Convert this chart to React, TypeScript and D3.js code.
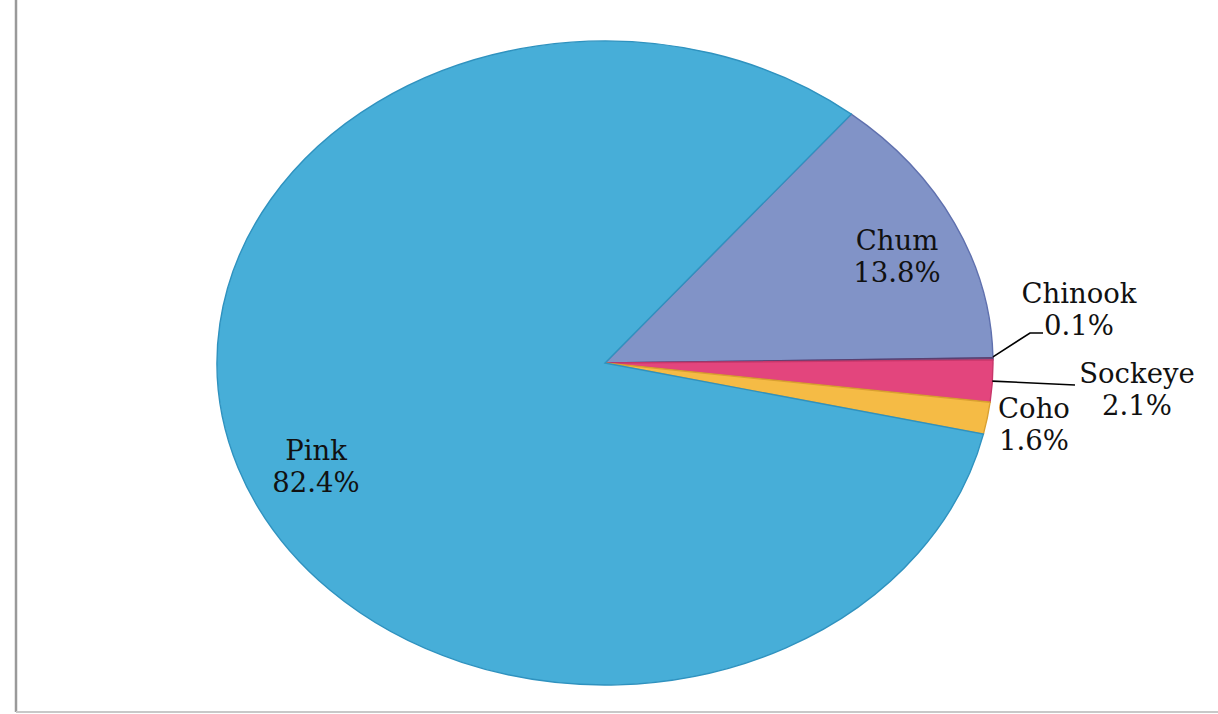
import React from "react";
import * as d3 from "d3";

const categories = ["Chum", "Chinook", "Sockeye", "Coho", "Pink"];
const values = [13.8, 0.1, 2.1, 1.6, 82.4];
const valueLabels = ["13.8%", "0.1%", "2.1%", "1.6%", "82.4%"];
const fills = ["#8193C7", "#7A5A8A", "#E3457D", "#F5BB45", "#47AED8"];
const strokes = ["#5F70AE", "#5A4070", "#C8366A", "#D9A030", "#2F92BF"];
const startAngleDeg = 39.4;

// label positions (centre x, first baseline)
const labelPos: Record<string, [number, number]> = {
  Chum: [897, 250],
  Chinook: [1079, 303],
  Sockeye: [1137, 383],
  Coho: [1034, 418],
  Pink: [316, 460],
};

export default function App() {
  const W = 1218;
  const H = 714;
  const cx = 605;
  const cy = 363;
  const rx = 388;
  const ry = 322;
  const sx = rx / ry;

  const pie = d3
    .pie<number>()
    .sort(null)
    .value((d) => d)
    .startAngle((startAngleDeg * Math.PI) / 180)
    .endAngle((startAngleDeg * Math.PI) / 180 + 2 * Math.PI);
  const arcs = pie(values);
  const arc = d3.arc<d3.PieArcDatum<number>>().innerRadius(0).outerRadius(ry);

  const edge = (a: number): [number, number] => [
    cx + rx * Math.sin(a),
    cy - ry * Math.cos(a),
  ];
  const chinookMid = edge((arcs[1].startAngle + arcs[1].endAngle) / 2);
  const sockMid = edge((arcs[2].startAngle + arcs[2].endAngle) / 2);

  return (
    <svg
      width={W}
      height={H}
      style={{ position: "absolute", left: 0, top: 0, background: "#fff" }}
    >
      <line x1={16} y1={0} x2={16} y2={712} stroke="#9a9a9a" strokeWidth={2.5} />
      <line x1={16} y1={712} x2={W} y2={712} stroke="#c8c8c8" strokeWidth={2} />
      <g transform={`translate(${cx},${cy}) scale(${sx},1)`}>
        {arcs.map((a, i) => (
          <path
            key={categories[i]}
            d={arc(a) || ""}
            fill={fills[i]}
            stroke={strokes[i]}
            strokeWidth={1.4}
            vectorEffect="non-scaling-stroke"
          />
        ))}
      </g>
      <polyline
        points={`${chinookMid[0]},${chinookMid[1] - 2} 1030,333 1043,333`}
        fill="none"
        stroke="#000"
        strokeWidth={1.6}
      />
      <polyline
        points={`${sockMid[0]},${sockMid[1]} 1075,385`}
        fill="none"
        stroke="#000"
        strokeWidth={1.6}
      />
      {categories.map((c, i) => {
        const [x, y] = labelPos[c];
        return (
          <text
            key={c}
            x={x}
            y={y}
            textAnchor="middle"
            fontFamily="'DejaVu Serif', serif"
            fontSize={27.5}
            fill="#111"
          >
            <tspan x={x}>{c}</tspan>
            <tspan x={x} dy={32}>
              {valueLabels[i]}
            </tspan>
          </text>
        );
      })}
    </svg>
  );
}
